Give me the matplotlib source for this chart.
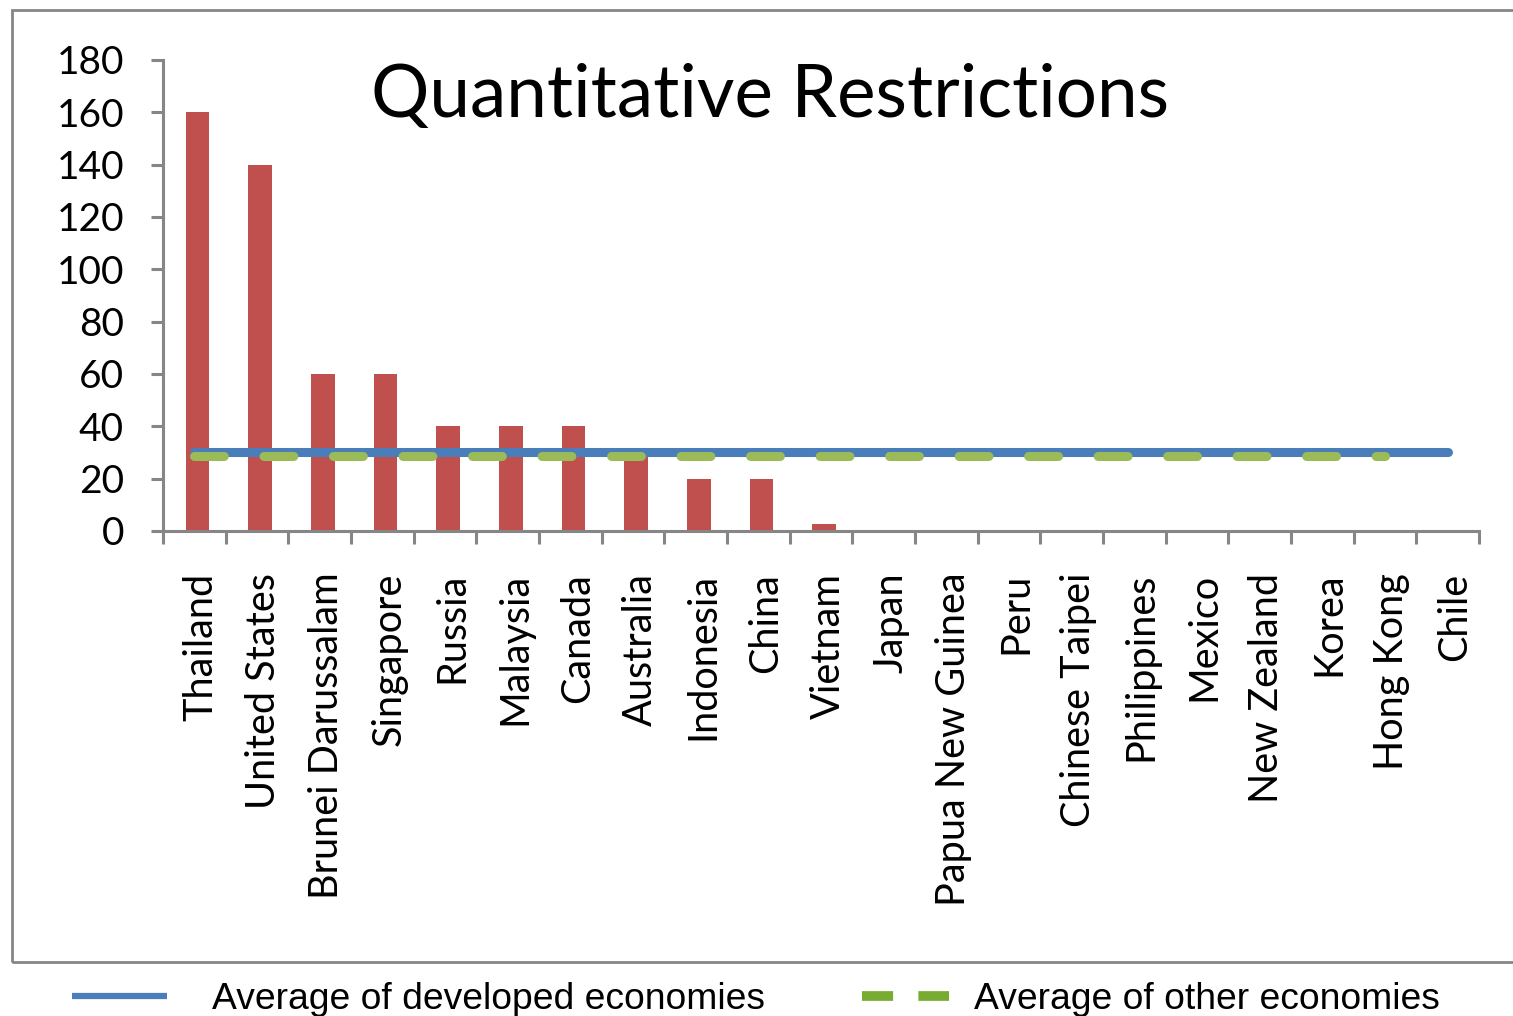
import matplotlib
matplotlib.use("Agg")
import matplotlib.pyplot as plt
from matplotlib.lines import Line2D
from matplotlib.patches import Rectangle
from matplotlib.transforms import ScaledTranslation
import numpy as np

countries = ['Thailand', 'United States', 'Brunei Darussalam', 'Singapore', 'Russia',
             'Malaysia', 'Canada', 'Australia', 'Indonesia', 'China', 'Vietnam', 'Japan',
             'Papua New Guinea', 'Peru', 'Chinese Taipei', 'Philippines', 'Mexico',
             'New Zealand', 'Korea', 'Hong Kong', 'Chile']
restrictions = [160, 140, 60, 60, 40, 40, 40, 29, 20, 20, 2.5, 0, 0, 0, 0, 0, 0, 0, 0, 0, 0]
avg_developed = [30] * 21
avg_other = [28.6] * 20

bar_color = '#C0504D'
blue = '#4A7EBB'
green = '#9BBB59'
grey = '#868686'

plt.rcParams['font.family'] = ['Lato', 'DejaVu Sans']

fig = plt.figure(figsize=(15.13, 10.16), dpi=100)
ax = fig.add_axes([0.1077, 0.4774, 0.8698, 0.4636])

x = np.arange(len(countries))
ax.bar(x + 0.05, restrictions, width=0.38, color=bar_color, zorder=2)
ax.plot(np.arange(len(avg_developed)), avg_developed, color=blue, linewidth=6.5,
        solid_capstyle='round', zorder=3)
ax.plot(np.arange(len(avg_other)), avg_other, color=green, linewidth=6.5,
        dashes=(3.3, 4.4), dash_capstyle='round', zorder=4)

ax.set_xlim(-0.5, len(countries) - 0.5)
ax.set_ylim(0, 180)
ax.set_yticks(range(0, 181, 20))
ax.set_xticks(np.arange(-0.5, len(countries)))
ax.set_xticklabels([])
ax.set_xticks(x, minor=True)
ax.set_xticklabels(countries, minor=True, rotation=90, fontsize=28.5)
ax.tick_params(axis='x', which='minor', length=0, pad=30)
ax.tick_params(axis='x', which='major', length=9, width=2.2, color=grey, direction='out')
ax.tick_params(axis='y', length=9, width=2.2, color=grey, labelsize=28, pad=19)

# labels sit a little right of the category centre in the original
shift = ScaledTranslation(0.07, 0, fig.dpi_scale_trans)
for lbl in ax.get_xticklabels(minor=True):
    lbl.set_transform(lbl.get_transform() + shift)

for side in ['top', 'right']:
    ax.spines[side].set_visible(False)
for side in ['left', 'bottom']:
    ax.spines[side].set_color(grey)
    ax.spines[side].set_linewidth(2.2)

fig.text(0.509, 0.905, 'Quantitative Restrictions', fontsize=52.5, ha='center', va='center')

fig.patches.append(Rectangle((0.0079, 0.0531), 1.2, 0.937, transform=fig.transFigure,
                             fill=False, edgecolor=grey, linewidth=2))

legend_font = {'family': ['Liberation Sans', 'DejaVu Sans'], 'size': 26.8}
blue_handle = Line2D([], [], color=blue, linewidth=4.5, solid_capstyle='butt')
green_handle = Line2D([], [], color='#77AC30', linewidth=7, dashes=(3.2, 2.6),
                      dash_capstyle='butt')
leg1 = fig.legend([blue_handle], ['Average of developed economies'],
                  loc='center left', bbox_to_anchor=(72 / 1513, 0.016), frameon=False,
                  prop=legend_font, handlelength=2.56, handletextpad=1.2,
                  borderpad=0, borderaxespad=0)
leg2 = fig.legend([green_handle], ['Average of other economies'],
                  loc='center left', bbox_to_anchor=(862 / 1513, 0.016), frameon=False,
                  prop=legend_font, handlelength=2.35, handletextpad=0.67,
                  borderpad=0, borderaxespad=0)

fig.savefig('out.png', dpi=100)
